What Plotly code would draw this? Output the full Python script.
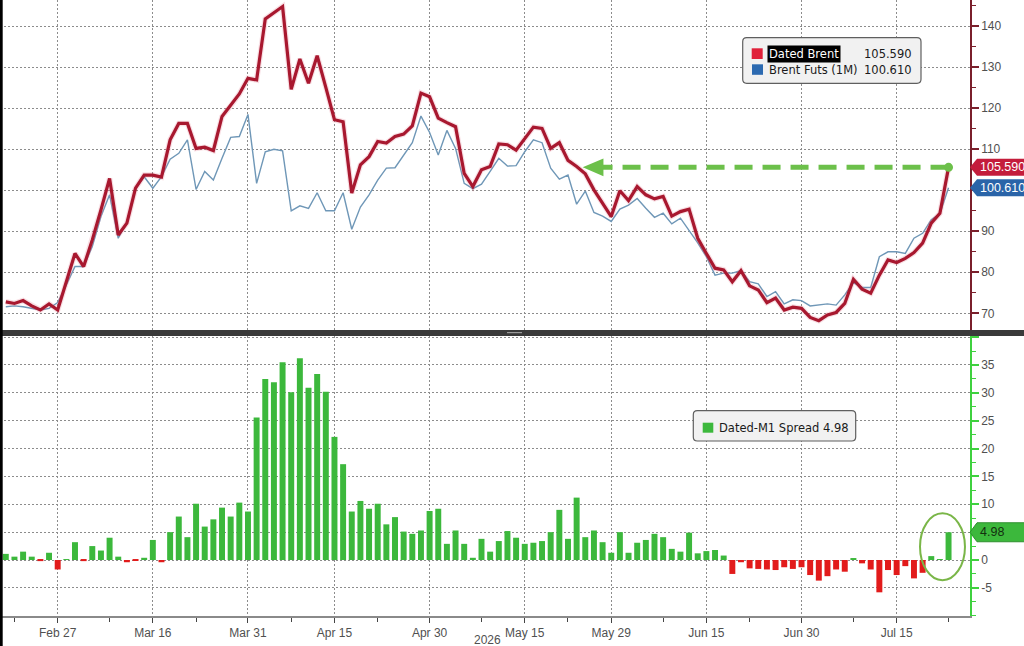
import pandas as pd
import plotly.graph_objects as go

# trading days on the axis (weekends and Good Friday left out)
holidays = ["2026-04-03"]
dates = [d.strftime("%Y-%m-%d") for d in pd.bdate_range("2026-02-19", "2026-07-23")]
dates = [d for d in dates if d not in holidays]

dated_brent = [72.8, 72.4, 73.1, 71.8, 70.8, 72.3, 70.8, 77.7, 84.6, 81.4,
               87.9, 95.2, 102.9, 89.1, 92.0, 100.5, 103.7, 103.7, 103.2, 112.3,
               116.3, 116.3, 110.2, 110.5, 109.7, 118.0, 120.6, 123.5, 127.3, 126.9,
               141.8, 143.2, 144.8, 124.6, 132.0, 126.1, 132.8, 125.1, 117.2, 116.7,
               99.3, 106.2, 108.2, 111.9, 111.5, 113.1, 113.7, 115.7, 123.7, 122.8,
               117.6, 116.5, 115.5, 104.1, 100.9, 105.0, 105.8, 111.3, 111.1, 109.8,
               112.7, 115.4, 115.1, 110.2, 111.6, 107.3, 105.8, 104.0, 100.1, 96.7,
               93.6, 99.9, 97.5, 100.9, 98.9, 97.9, 98.5, 93.7, 94.8, 95.4,
               88.3, 84.6, 81.0, 80.6, 77.7, 80.4, 76.7, 75.7, 72.6, 73.7,
               70.8, 71.5, 71.2, 69.0, 68.2, 69.6, 70.2, 72.4, 78.3, 75.9,
               74.9, 79.3, 83.0, 82.4, 83.4, 84.8, 87.1, 92.0, 94.4, 105.59]

brent_futs = [71.6, 71.8, 71.6, 71.2, 70.8, 71.2, 72.6, 76.9, 81.4, 81.4,
              86.3, 93.6, 98.9, 88.3, 92.2, 100.5, 103.3, 100.5, 103.3, 107.6,
              109.0, 112.3, 100.2, 104.6, 102.5, 107.8, 112.9, 113.1, 118.5, 101.7,
              109.4, 110.0, 109.6, 95.0, 96.2, 95.6, 99.4, 95.0, 95.0, 99.4,
              90.5, 95.9, 98.9, 102.5, 105.4, 105.5, 108.6, 111.6, 118.1, 114.1,
              108.6, 114.6, 110.2, 101.7, 100.4, 101.5, 104.6, 107.8, 105.9, 106.0,
              109.4, 112.3, 111.6, 105.4, 102.7, 103.7, 96.6, 99.8, 94.6, 93.7,
              92.4, 95.4, 96.4, 98.0, 95.6, 93.4, 94.4, 91.8, 93.2, 90.3,
              87.2, 83.8, 79.3, 79.8, 79.8, 80.4, 77.7, 77.2, 74.1, 75.3,
              72.3, 73.3, 73.1, 71.8, 72.0, 72.3, 72.0, 74.5, 77.5, 76.3,
              76.3, 83.8, 85.0, 85.0, 84.6, 88.3, 89.5, 92.8, 94.3, 100.61]

spread = [1.1, 0.6, 1.5, 0.6, -0.2, 1.3, -1.7, 0.1, 3.2, -0.2,
          2.5, 1.7, 4.0, 0.6, -0.4, -0.1, 0.4, 3.6, -0.4, 5.0,
          7.8, 4.1, 10.1, 6.0, 7.3, 9.4, 7.8, 10.3, 8.7, 25.6,
          32.5, 31.9, 35.5, 30.1, 36.2, 30.9, 33.4, 30.2, 22.1, 17.2,
          8.7, 10.6, 9.2, 10.1, 6.4, 7.7, 5.1, 4.7, 5.3, 8.8,
          9.2, 2.9, 5.3, 2.9, 0.4, 3.8, 1.5, 3.4, 5.2, 4.0,
          2.9, 3.1, 3.4, 5.0, 9.0, 3.8, 11.2, 4.1, 5.3, 3.2,
          1.3, 5.0, 1.3, 3.1, 3.6, 4.7, 4.1, 2.0, 1.5, 4.9,
          1.2, 1.6, 1.8, 0.8, -2.5, -0.4, -1.5, -1.6, -1.7, -1.8,
          -1.3, -1.6, -1.3, -2.7, -3.7, -2.9, -1.7, -2.1, 0.2, -0.6,
          -1.7, -5.8, -1.8, -2.7, -1.1, -3.3, -2.3, 0.7, 0.05, 4.98]

tick_dates = ["2026-02-27", "2026-03-16", "2026-03-31", "2026-04-15", "2026-04-30",
              "2026-05-15", "2026-05-29", "2026-06-15", "2026-06-30", "2026-07-15"]
tick_text = ["Feb 27", "Mar 16", "Mar 31", "Apr 15", "Apr 30",
             "May 15", "May 29", "Jun 15", "Jun 30", "Jul 15"]
minor_dates = ["2026-02-20", "2026-03-09", "2026-03-23", "2026-04-08", "2026-04-22",
               "2026-05-08", "2026-05-22", "2026-06-08", "2026-06-22", "2026-07-08",
               "2026-07-23"]

# labels hidden behind the value tags are left blank
top_ticks = [70, 80, 90, 100, 110, 120, 130, 140]
top_text = ["70", "80", "90", "", "110", "120", "130", "140"]
bot_ticks = [-5, 0, 5, 10, 15, 20, 25, 30, 35, 40]
bot_text = ["-5", "0", "", "10", "15", "20", "25", "30", "35", ""]

# geometry (pixels)
W, H = 1024, 646
PW, PH = 970, 616
TOP_DOM = [0.4643, 1.0]
BOT_DOM = [0.0, 0.4545]
TOP_RNG = [65.93, 146.4]
BOT_RNG = [-10.05, 40.2]
X_RNG = [-0.67, 111.48]

GRID = "#8c8c8c"
TICKFONT = dict(family="Liberation Sans", size=12, color="#505050")
LEGFONT = dict(family="DejaVu Sans", size=11.5, color="#1a1a1a")
RED_TAG = "#c41c3b"
BLUE_TAG = "#2a64a8"
GREEN = "#3cb83c"
ARROW_GREEN = "#6cc04a"


def px_x(p):
    return p / PW


def px_y(p):
    return (PH - p) / PH


def val_y(v, dom, rng):
    return dom[0] + (v - rng[0]) / (rng[1] - rng[0]) * (dom[1] - dom[0])


def rounded_rect(x0, y0, x1, y1, r):
    pts = [("M", x0 + r, y0), ("L", x1 - r, y0), ("Q", x1, y0, x1, y0 + r),
           ("L", x1, y1 - r), ("Q", x1, y1, x1 - r, y1), ("L", x0 + r, y1),
           ("Q", x0, y1, x0, y1 - r), ("L", x0, y0 + r), ("Q", x0, y0, x0 + r, y0)]
    out = []
    for p in pts:
        if p[0] == "Q":
            out.append("Q %.5f %.5f %.5f %.5f" % (px_x(p[1]), px_y(p[2]), px_x(p[3]), px_y(p[4])))
        else:
            out.append("%s %.5f %.5f" % (p[0], px_x(p[1]), px_y(p[2])))
    return " ".join(out) + " Z"


def tag_path(yc, half):
    # pointer tag sitting on the right axis, yc in paper units
    tip = 1.0
    base = px_x(PW + 7)
    end = px_x(W + 10)
    return "M %.5f %.5f L %.5f %.5f L %.5f %.5f L %.5f %.5f L %.5f %.5f Z" % (
        tip, yc, base, yc + half, end, yc + half, end, yc - half, base, yc - half)


fig = go.Figure()

fig.add_trace(go.Scatter(x=dates, y=brent_futs, mode="lines", xaxis="x", yaxis="y",
                         line=dict(color="#6f97b7", width=1.4), showlegend=False))
fig.add_trace(go.Scatter(x=dates, y=dated_brent, mode="lines", xaxis="x", yaxis="y",
                         line=dict(color="rgba(225,110,130,0.22)", width=5.5), showlegend=False))
fig.add_trace(go.Scatter(x=dates, y=dated_brent, mode="lines", xaxis="x", yaxis="y",
                         line=dict(color="#a8182f", width=3.2), showlegend=False))

bar_colors = [GREEN if v >= 0 else "#e21b1b" for v in spread]
fig.add_trace(go.Bar(x=dates, y=spread, xaxis="x2", yaxis="y2",
                     marker=dict(color=bar_colors, line=dict(width=0)), showlegend=False))

common_x = dict(type="category", categoryorder="array", categoryarray=dates,
                range=X_RNG, domain=[0, 1], tickvals=tick_dates,
                showgrid=True, gridcolor=GRID, griddash="2px,2px", gridwidth=1,
                zeroline=False, fixedrange=True)

fig.update_layout(
    width=W, height=H,
    margin=dict(l=0, r=W - PW, t=0, b=H - PH),
    paper_bgcolor="white", plot_bgcolor="white",
    font=dict(family="DejaVu Sans", size=12, color="#333"),
    bargap=0.31,
    showlegend=False,
    xaxis=dict(common_x, anchor="y", showticklabels=False, ticks="", showline=False),
    xaxis2=dict(common_x, anchor="y2", ticktext=tick_text, tickfont=TICKFONT,
                ticks="outside", ticklen=5, tickwidth=1, tickcolor="#444",
                showline=True, linecolor="#8a8a8a", linewidth=1.5,
                minor=dict(tickvals=minor_dates, ticks="outside", ticklen=4,
                           tickwidth=1, tickcolor="#444", showgrid=False)),
    yaxis=dict(domain=TOP_DOM, anchor="x", side="right", range=TOP_RNG,
               tickvals=top_ticks, ticktext=top_text, tickfont=TICKFONT,
               ticks="outside", ticklen=7, tickwidth=2, tickcolor="#7a1f2b",
               showline=True, linecolor="#7a1f2b", linewidth=1.5,
               showgrid=True, gridcolor=GRID, griddash="2px,2px", gridwidth=1,
               zeroline=False, fixedrange=True,
               minor=dict(dtick=5, tick0=0, ticks="outside", ticklen=4, tickwidth=1,
                          tickcolor="#7a1f2b", showgrid=False)),
    yaxis2=dict(domain=BOT_DOM, anchor="x2", side="right", range=BOT_RNG,
                tickvals=bot_ticks, ticktext=bot_text, tickfont=TICKFONT,
                ticks="outside", ticklen=7, tickwidth=2, tickcolor="#3fd13f",
                showline=True, linecolor="#3fd13f", linewidth=1.5,
                showgrid=True, gridcolor=GRID, griddash="2px,2px", gridwidth=1,
                zeroline=False, fixedrange=True,
                minor=dict(dtick=2.5, tick0=0, ticks="outside", ticklen=4, tickwidth=1,
                           tickcolor="#3fd13f", showgrid=False)),
)

last = len(dates) - 1
shapes = []

# green dashed arrow back to the level of the latest print
shapes.append(dict(type="line", xref="x", yref="y", x0=last, x1=68.9,
                   y0=dated_brent[-1], y1=dated_brent[-1], layer="above",
                   line=dict(color=ARROW_GREEN, width=5, dash="18px,10px")))
shapes.append(dict(type="path", xref="x", yref="y", layer="above",
                   path="M 66.7 %.3f L 69.1 %.3f L 69.1 %.3f Z" % (
                       dated_brent[-1], dated_brent[-1] + 2.15, dated_brent[-1] - 2.15),
                   fillcolor=ARROW_GREEN, line=dict(width=0)))
shapes.append(dict(type="circle", xref="x", yref="y", xsizemode="pixel", ysizemode="pixel",
                   xanchor=last, yanchor=dated_brent[-1], x0=-4.5, x1=4.5, y0=-4.5, y1=4.5,
                   fillcolor=ARROW_GREEN, line=dict(width=0), layer="above"))

# ellipse round the latest spread bar
shapes.append(dict(type="circle", xref="x2", yref="y2", x0=105.7, x1=110.9,
                   y0=spread[-1] - 8.6, y1=spread[-1] + 3.4, layer="above",
                   line=dict(color="#7ab648", width=2)))

# value tags on the right axes
half = 8.5 / PH
for v, col in [(dated_brent[-1], RED_TAG), (brent_futs[-1], BLUE_TAG)]:
    shapes.append(dict(type="path", xref="paper", yref="paper", layer="above",
                       path=tag_path(val_y(v, TOP_DOM, TOP_RNG), half),
                       fillcolor=col, line=dict(width=0)))
shapes.append(dict(type="path", xref="paper", yref="paper", layer="above",
                   path=tag_path(val_y(spread[-1], BOT_DOM, BOT_RNG), 9.5 / PH),
                   fillcolor=GREEN, line=dict(color="#2f8f2f", width=1)))

# legend boxes
shapes.append(dict(type="path", xref="paper", yref="paper", layer="above",
                   path=rounded_rect(742.7, 37.7, 921, 83.3, 4),
                   fillcolor="#f1f1f1", line=dict(color="#5f5f5f", width=1.2)))
shapes.append(dict(type="rect", xref="paper", yref="paper", layer="above",
                   x0=px_x(751.7), x1=px_x(762.7), y0=px_y(59), y1=px_y(48.3),
                   fillcolor="#e0203a", line=dict(width=0)))
shapes.append(dict(type="rect", xref="paper", yref="paper", layer="above",
                   x0=px_x(752), x1=px_x(763), y0=px_y(74.8), y1=px_y(64.3),
                   fillcolor="#2c6ab1", line=dict(width=0)))
shapes.append(dict(type="path", xref="paper", yref="paper", layer="above",
                   path=rounded_rect(693.3, 410.7, 855.7, 441, 4),
                   fillcolor="#f1f1f1", line=dict(color="#5f5f5f", width=1.2)))
shapes.append(dict(type="rect", xref="paper", yref="paper", layer="above",
                   x0=px_x(702.7), x1=px_x(713.3), y0=px_y(432.7), y1=px_y(422.7),
                   fillcolor=GREEN, line=dict(width=0)))

# panel separator and left edge strip
shapes.append(dict(type="rect", xref="paper", yref="paper", layer="above",
                   x0=-0.01, x1=px_x(W + 10), y0=BOT_DOM[1], y1=TOP_DOM[0],
                   fillcolor="#3a3a3a", line=dict(width=0)))
shapes.append(dict(type="rect", xref="paper", yref="paper", layer="above",
                   x0=px_x(507), x1=px_x(522), y0=px_y(333.2), y1=px_y(332),
                   fillcolor="#9a9a9a", line=dict(width=0)))
shapes.append(dict(type="rect", xref="paper", yref="paper", layer="above",
                   x0=-0.01, x1=px_x(2.7), y0=px_y(H + 5), y1=1.0,
                   fillcolor="#000000", line=dict(width=0)))

fig.update_layout(shapes=shapes)

ann = []
tagfont = dict(family="Liberation Sans", size=12.5, color="white")
ann.append(dict(xref="paper", yref="y", x=px_x(978), y=dated_brent[-1], xanchor="left",
                yanchor="middle", text="%.3f" % dated_brent[-1], showarrow=False, font=tagfont))
ann.append(dict(xref="paper", yref="y", x=px_x(978), y=brent_futs[-1], xanchor="left",
                yanchor="middle", text="%.3f" % brent_futs[-1], showarrow=False, font=tagfont))
ann.append(dict(xref="paper", yref="y2", x=px_x(978), y=spread[-1], xanchor="left",
                yanchor="middle", text="%.2f" % spread[-1], showarrow=False,
                font=dict(family="Liberation Sans", size=12.5, color="#13300f")))

ann.append(dict(xref="paper", yref="paper", x=px_x(766.5), y=px_y(53.7), xanchor="left",
                yanchor="middle", text="Dated Brent", showarrow=False, bgcolor="black",
                borderpad=1, font=dict(LEGFONT, color="white")))
ann.append(dict(xref="paper", yref="paper", x=px_x(913.5), y=px_y(53.7), xanchor="right",
                yanchor="middle", text="%.3f" % dated_brent[-1], showarrow=False, font=LEGFONT))
ann.append(dict(xref="paper", yref="paper", x=px_x(766.5), y=px_y(69.7), xanchor="left",
                yanchor="middle", text="Brent Futs (1M)", showarrow=False, font=LEGFONT))
ann.append(dict(xref="paper", yref="paper", x=px_x(913.5), y=px_y(69.7), xanchor="right",
                yanchor="middle", text="%.3f" % brent_futs[-1], showarrow=False, font=LEGFONT))
ann.append(dict(xref="paper", yref="paper", x=px_x(717), y=px_y(427.5), xanchor="left",
                yanchor="middle", text="Dated-M1 Spread %.2f" % spread[-1],
                showarrow=False, font=LEGFONT))

ann.append(dict(xref="paper", yref="paper", x=px_x(487), y=px_y(631), xanchor="center",
                yanchor="top", text="2026", showarrow=False, font=TICKFONT))

fig.update_layout(annotations=ann)

# page body margin would push the figure off the 1024x646 window
fig.write_html("out.html", config={"displayModeBar": False},
               post_script="document.body.style.margin='0';document.body.style.overflow='hidden';")
